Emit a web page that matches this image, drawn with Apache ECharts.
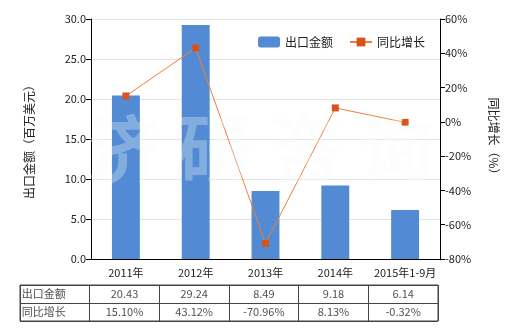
<!DOCTYPE html>
<html><head><meta charset="utf-8">
<script src="https://cdn.jsdelivr.net/npm/echarts@6/dist/echarts.min.js"></script>
<style>html,body{margin:0;padding:0;background:#fff}#c{width:520px;height:330px}</style>
</head><body><div id="c"></div>
<script>
const categories = ['2011年','2012年','2013年','2014年','2015年1-9月'];
const exportValues = [20.43, 29.24, 8.49, 9.18, 6.14];
const growthValues = [15.10, 43.12, -70.96, 8.13, -0.32];
const rowNames = ['出口金额','同比增长'];
const seriesNames = ['出口金额','同比增长'];
const leftTicks = {min:0, max:30, interval:5};
const rightTicks = {min:-80, max:60, interval:20};

const FONT = '"Noto Sans CJK SC", sans-serif';
const TXT = '#222';

const tableData = [];
rowNames.forEach((n,r)=>tableData.push({value:[0,r,n], label:{align:'left', offset:[-33,0]}}));
exportValues.forEach((v,i)=>tableData.push({value:[i+1,0,v.toFixed(2)]}));
growthValues.forEach((v,i)=>tableData.push({value:[i+1,1,v.toFixed(2)+'%']}));

const chart = echarts.init(document.getElementById('c'));
chart.setOption({
  animation:false,
  textStyle:{fontFamily:FONT},
  legend:{
    left:253, top:31, itemWidth:22, itemHeight:11, itemGap:16,
    textStyle:{fontSize:12, color:TXT, fontFamily:FONT},
    data:seriesNames
  },
  graphic:[{
    type:'text', left:'center', top:112, z:100, silent:true,
    style:{text:'济 研 咨 询', fontSize:74, fontWeight:'bold', fontFamily:FONT,
      fill:'rgba(244,247,247,0.3)'}
  }],
  grid:[
    {left:91, right:80, top:19, height:240},
    {left:20, top:285, width:418, height:36, show:true, borderColor:'#444', borderWidth:1}
  ],
  xAxis:[
    {type:'category', gridIndex:0, data:categories,
     axisLine:{lineStyle:{color:'#000'}},
     axisTick:{alignWithLabel:true, length:5, lineStyle:{color:'#000'}},
     axisLabel:{color:TXT, fontSize:11, margin:8, fontFamily:FONT, interval:0}},
    {type:'category', gridIndex:1, data:['',...categories],
     axisLine:{show:false}, axisTick:{show:false}, axisLabel:{show:false},
     splitLine:{show:true, interval:0, lineStyle:{color:'#444', width:1}}}
  ],
  yAxis:[
    {type:'value', gridIndex:0, min:leftTicks.min, max:leftTicks.max, interval:leftTicks.interval,
     name:'出口金额（百万美元）', nameLocation:'middle', nameRotate:90, nameGap:56,
     nameTextStyle:{fontSize:12, color:TXT, fontFamily:FONT},
     axisLine:{show:true, lineStyle:{color:'#000'}},
     axisTick:{show:true, length:5, lineStyle:{color:'#000'}},
     axisLabel:{color:TXT, fontSize:11, formatter:v=>v.toFixed(1), margin:5},
     splitLine:{show:true, lineStyle:{color:'#e4e4e4'}}},
    {type:'value', gridIndex:0, min:rightTicks.min, max:rightTicks.max, interval:rightTicks.interval,
     position:'right',
     name:'同比增长（%）', nameLocation:'middle', nameRotate:-90, nameGap:48,
     nameTextStyle:{fontSize:12, color:TXT, fontFamily:FONT},
     axisLine:{show:true, lineStyle:{color:'#000'}},
     axisTick:{show:true, length:5, lineStyle:{color:'#000'}},
     axisLabel:{color:TXT, fontSize:11, formatter:v=>v+'%', margin:5},
     splitLine:{show:false}},
    {type:'category', gridIndex:1, data:rowNames, inverse:true,
     axisLine:{show:false}, axisTick:{show:false}, axisLabel:{show:false},
     splitLine:{show:true, interval:0, lineStyle:{color:'#444', width:1}}}
  ],
  series:[
    {name:seriesNames[0], type:'bar', xAxisIndex:0, yAxisIndex:0, data:exportValues,
     barWidth:'40%', itemStyle:{color:'#528bd4'}},
    {name:seriesNames[1], type:'line', xAxisIndex:0, yAxisIndex:1, data:growthValues,
     symbol:'rect', symbolSize:7, z:5,
     lineStyle:{color:'#ef7e3a', width:1},
     itemStyle:{color:'#d9531e'}},
    {type:'scatter', xAxisIndex:1, yAxisIndex:2, data:tableData, silent:true,
     symbolSize:1, itemStyle:{color:'rgba(0,0,0,0)'},
     label:{show:true, position:'inside', color:TXT, fontSize:11, fontFamily:FONT,
       formatter:p=>p.value[2]}}
  ]
});
</script></body></html>
